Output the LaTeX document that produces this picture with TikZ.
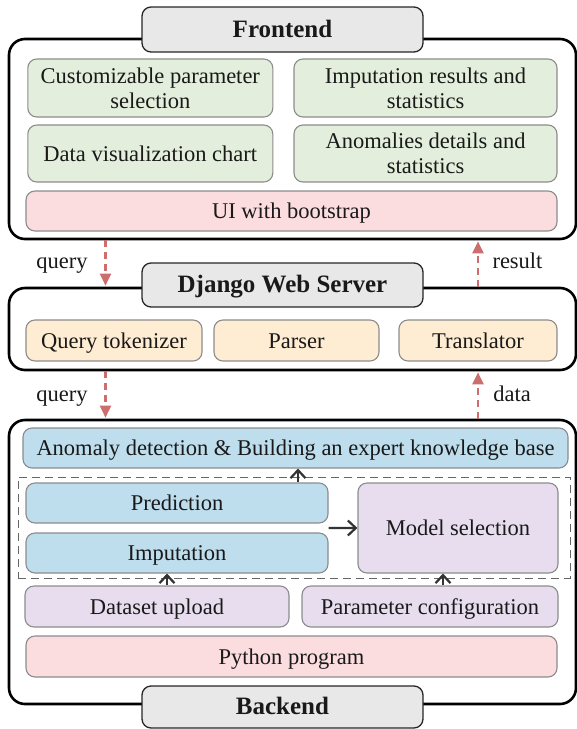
\documentclass[tikz,border=0pt]{standalone}
\usepackage{fontspec}
\setmainfont{Liberation Serif}
\usetikzlibrary{calc,arrows.meta}
\definecolor{titlegray}{HTML}{E8E8E8}
\definecolor{uigreen}{HTML}{E3EFDC}
\definecolor{uipink}{HTML}{FBDDE0}
\definecolor{srvcream}{HTML}{FFEDD3}
\definecolor{algblue}{HTML}{BEDEEE}
\definecolor{cfglilac}{HTML}{E7DDEE}
\definecolor{flowred}{HTML}{CC6E6E}

\begin{document}
\begin{tikzpicture}[x=1pt,y=-1pt,
  every node/.style={font=\fontsize{22.5}{25}\selectfont,text=black!90,inner sep=0pt},
  oneline/.style={text height=16pt,text depth=0.5pt},
  layer/.style={draw=black,line width=2.6pt,rounded corners=16pt,fill=white},
  title/.style={draw=black!85,line width=1.3pt,rounded corners=9pt,fill=titlegray,
    font=\fontsize{25}{28}\selectfont\bfseries,oneline},
  part/.style={draw=black!45,line width=1.1pt,rounded corners=9pt,align=center},
  group/.style={draw=black!60,line width=1pt,dash pattern=on 8pt off 5pt},
  flow/.style={draw=flowred,line width=2.4pt,dash pattern=on 7pt off 5pt,
    -{Triangle[length=12pt,width=11pt]},shorten >=1pt},
  link/.style={draw=black!80,line width=2.2pt,-{Straight Barb[length=8pt,width=15pt]}}]
  \useasboundingbox (0,0) rectangle (577,729);

  % frontend
  \node[layer,minimum width=567,minimum height=200] (fe) at (292.5,139) {};
  \node[title,minimum width=281,minimum height=45] (fet) at (282.5,29.5) {Frontend};
  \node[part,fill=uigreen,minimum width=245,minimum height=58] (cps) at (150.3,88) {Customizable parameter\\selection};
  \node[part,fill=uigreen,minimum width=263,minimum height=58] (irs) at (425.5,88) {Imputation results and\\statistics};
  \node[part,oneline,fill=uigreen,minimum width=245,minimum height=57] (dvc) at (150.3,153.5) {Data visualization chart};
  \node[part,fill=uigreen,minimum width=263,minimum height=57] (ads) at (425.5,153.5) {Anomalies details and\\statistics};
  \node[part,oneline,fill=uipink,minimum width=531,minimum height=40] (ui) at (291.5,211) {UI with bootstrap};

  % web server
  \node[layer,minimum width=567,minimum height=82] (dj) at (292.5,329) {};
  \node[title,minimum width=281,minimum height=44] (djt) at (282.5,285) {Django Web Server};
  \node[part,oneline,fill=srvcream,minimum width=176,minimum height=41] (qt) at (114,340.5) {Query tokenizer};
  \node[part,oneline,fill=srvcream,minimum width=165,minimum height=41] (ps) at (296.5,340.5) {Parser};
  \node[part,oneline,fill=srvcream,minimum width=158,minimum height=41] (tr) at (478,340.5) {Translator};

  % backend
  \node[layer,minimum width=567,minimum height=284] (be) at (292.5,562) {};
  \node[part,oneline,fill=algblue,minimum width=545,minimum height=40] (anom) at (295.5,448) {Anomaly detection \& Building an expert knowledge base};
  \node[group,minimum width=552,minimum height=101] (core) at (294,527.5) {};
  \node[part,oneline,fill=algblue,minimum width=302,minimum height=40] (pred) at (177,503) {Prediction};
  \node[part,oneline,fill=algblue,minimum width=302,minimum height=40] (imp) at (177,553) {Imputation};
  \node[part,oneline,fill=cfglilac,minimum width=200,minimum height=90] (model) at (458,528) {Model selection};
  \node[part,oneline,fill=cfglilac,minimum width=264,minimum height=41] (dsu) at (157,606.5) {Dataset upload};
  \node[part,oneline,fill=cfglilac,minimum width=256,minimum height=41] (pc) at (430,606.5) {Parameter configuration};
  \node[part,oneline,fill=uipink,minimum width=531,minimum height=41] (py) at (291.5,656.5) {Python program};
  \node[title,minimum width=281,minimum height=42] (bet) at (282.5,707) {Backend};

  % columns of the connectors
  \coordinate (qcol) at (105.5,0);
  \coordinate (rcol) at (478,0);
  \coordinate (acol) at (298,0);
  \coordinate (dcol) at (167,0);
  \coordinate (pcol) at (443,0);

  \draw[flow] (fe.south -| qcol) -- (dj.north -| qcol);
  \draw[flow] (dj.north -| rcol) -- (fe.south -| rcol);
  \draw[flow] (dj.south -| qcol) -- (be.north -| qcol);
  \draw[flow] (be.north -| rcol) -- (dj.south -| rcol);
  \node[oneline] (q1) at (62,261) {query};
  \node[oneline] (res) at (517.5,261) {result};
  \node[oneline] (q2) at (62,394) {query};
  \node[oneline] (dat) at (512,394) {data};

  \draw[link] (pred.north -| acol) -- (anom.south -| acol);
  \draw[link] ($(pred.south east)!.5!(imp.north east)$) -- (model.west);
  \draw[link] (dsu.north -| dcol) -- (imp.south -| dcol);
  \draw[link] (pc.north -| pcol) -- (model.south -| pcol);
\end{tikzpicture}
\end{document}
